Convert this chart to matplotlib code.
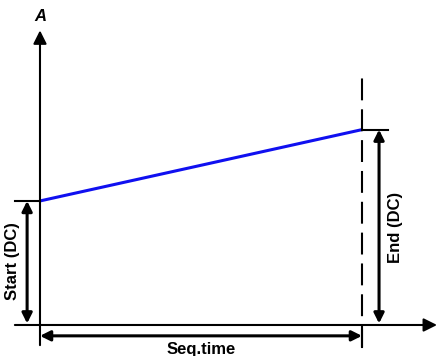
import matplotlib.pyplot as plt

# sequence values (arbitrary units)
seq_time = 10.0
start_dc = 4.0
end_dc = 6.3
ramp_t = [0.0, seq_time]
ramp_a = [start_dc, end_dc]

plt.rcParams['font.family'] = ['Liberation Sans', 'DejaVu Sans']

fig = plt.figure(figsize=(4.37, 3.56), dpi=100)
ax = fig.add_axes([0, 0, 1, 1])
ax.set_xlim(-1.242, 12.33)
ax.set_ylim(-1.0, 10.48)
ax.axis('off')

k = 'black'
head = dict(arrowstyle='-|>', color=k, lw=1.5, mutation_scale=20, shrinkA=0, shrinkB=0)
dbl = dict(arrowstyle='<|-|>', color=k, lw=2.2, mutation_scale=15, shrinkA=0, shrinkB=0)

# axes with arrow heads
ax.annotate('', xy=(0, 9.5), xytext=(0, -0.65), arrowprops=head)
ax.annotate('', xy=(12.33, 0), xytext=(-0.78, 0), arrowprops=head)
ax.text(0, 9.95, 'A', ha='center', va='center', fontsize=12,
        fontweight='bold', fontstyle='italic')

# ramp
ax.plot(ramp_t, ramp_a, color='#1010f0', lw=2.2, solid_capstyle='butt')

# end of sequence marker
ax.plot([seq_time, seq_time], [-0.7, 8.0], color=k, lw=1.5, dashes=(10.5, 4.3),
        dash_capstyle='butt')
ax.plot([seq_time, seq_time], [-0.72, -0.15], color=k, lw=1.5)

# start level
ax.plot([-0.78, 0], [start_dc, start_dc], color=k, lw=1.5)
ax.annotate('', xy=(-0.4, start_dc), xytext=(-0.4, 0.05), arrowprops=dbl)
ax.text(-0.85, 2.05, 'Start (DC)', rotation=90, ha='center', va='center',
        fontsize=12, fontweight='bold')

# end level
ax.plot([seq_time, seq_time + 0.8], [end_dc, end_dc], color=k, lw=1.5)
ax.annotate('', xy=(seq_time + 0.53, end_dc), xytext=(seq_time + 0.53, 0.05),
            arrowprops=dbl)
ax.text(seq_time + 1.03, 3.13, 'End (DC)', rotation=90, ha='center', va='center',
        fontsize=12, fontweight='bold')

# sequence time
ax.annotate('', xy=(seq_time, -0.35), xytext=(0, -0.35), arrowprops=dbl)
ax.text(5.0, -0.8, 'Seq.time', ha='center', va='center',
        fontsize=12, fontweight='bold')

fig.savefig('out.png', dpi=100)
